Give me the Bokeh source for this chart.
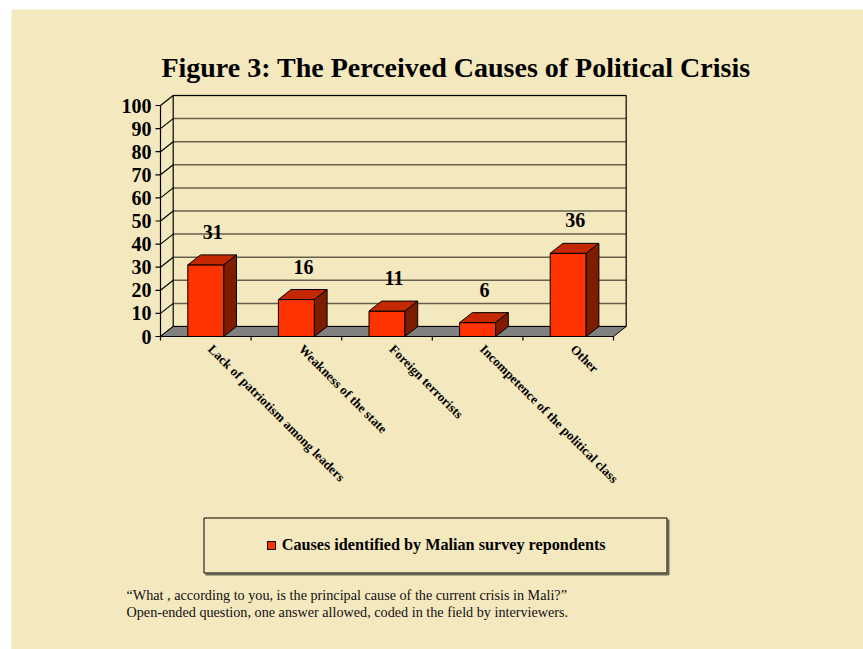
import math
from bokeh.plotting import figure
from bokeh.models import Range1d, Legend, LegendItem
from bokeh.core.properties import value
from bokeh.embed import file_html
from bokeh.resources import INLINE

# ---------------- data ----------------
categories = [
    "Lack of patriotism among leaders",
    "Weakness of the state",
    "Foreign terrorists",
    "Incompetence of the political class",
    "Other",
]
percentages = [31, 16, 11, 6, 36]
y_ticks = [0, 10, 20, 30, 40, 50, 60, 70, 80, 90, 100]
y_tick_labels = [str(t) for t in y_ticks]
title_text = "Figure 3:  The Perceived Causes of Political Crisis"
legend_label = "Causes identified by Malian survey repondents"
note_lines = [
    "\u201cWhat , according to you, is the principal cause of the current crisis in Mali?\u201d",
    "Open-ended question, one answer allowed, coded in the field by interviewers.",
]

# ---------------- layout (pixel geometry) ----------------
W, H = 863, 649
LEFT_PAD, TOP_PAD = 11, 9   # white strip before the beige panel
PX_CAT = 90.6      # pixels per category
PX_UNIT = 2.31     # pixels per percentage point
ORIGIN_X = 160     # page x of the front axis
ORIGIN_Y = 336     # page y of value 0 on the front plane

def X(px):  # page px -> data x
    return (px - ORIGIN_X) / PX_CAT

def Y(py):  # page px -> data y
    return (ORIGIN_Y - py) / PX_UNIT

def DX(px):
    return px / PX_CAT

def DY(px):
    return px / PX_UNIT

BG = "#F4E8BE"
FRONT = "#FF3300"
TOP = "#C42800"
SIDE = "#7E1C00"
FLOOR = "#808080"
GRID = "#66614F"
SERIF = value("Liberation Serif")

depth_x = DX(12.7)
depth_y = DY(10)
half_w = DX(18)
n = len(categories)
y_max = y_ticks[-1]

p = figure(width=W, height=H,
           x_range=Range1d(X(LEFT_PAD), X(W)), y_range=Range1d(Y(H), Y(TOP_PAD)),
           output_backend="svg", toolbar_location=None,
           x_axis_location=None, y_axis_location=None,
           min_border=0, min_border_left=LEFT_PAD, min_border_top=TOP_PAD,
           background_fill_color=BG, border_fill_color="white",
           outline_line_color=None)
p.xgrid.visible = False
p.ygrid.visible = False

# back wall gridlines
p.segment(x0=[depth_x] * len(y_ticks), y0=[t + depth_y for t in y_ticks],
          x1=[n + depth_x] * len(y_ticks), y1=[t + depth_y for t in y_ticks],
          line_color=GRID, line_width=1.5)
# back wall frame
p.line(x=[depth_x, depth_x, n + depth_x, n + depth_x],
       y=[depth_y, y_max + depth_y, y_max + depth_y, depth_y],
       line_color="black", line_width=1.2)
# side wall diagonals
p.segment(x0=[0] * len(y_ticks), y0=y_ticks,
          x1=[depth_x] * len(y_ticks), y1=[t + depth_y for t in y_ticks],
          line_color="black", line_width=1.2)
# floor
p.patch(x=[0, n, n + depth_x, depth_x], y=[0, 0, depth_y, depth_y],
        fill_color=FLOOR, line_color="black", line_width=1)
# front value axis and ticks
p.line(x=[0, 0], y=[0, y_max], line_color="black", line_width=1.2)
p.segment(x0=[-DX(5)] * len(y_ticks), y0=y_ticks, x1=[0] * len(y_ticks), y1=y_ticks,
          line_color="black", line_width=1.2)
# category axis and ticks
p.line(x=[0, n], y=[0, 0], line_color="black", line_width=1.2)
p.segment(x0=list(range(n + 1)), y0=[0] * (n + 1), x1=list(range(n + 1)),
          y1=[-DY(4)] * (n + 1), line_color="black", line_width=1.2)

# bars
centers = [i + 0.5 for i in range(n)]
front = p.quad(left=[c - half_w for c in centers], right=[c + half_w for c in centers],
               bottom=[0] * n, top=percentages,
               fill_color=FRONT, line_color="black", line_width=1)
p.patches(xs=[[c - half_w, c + half_w, c + half_w + depth_x, c - half_w + depth_x] for c in centers],
          ys=[[v, v, v + depth_y, v + depth_y] for v in percentages],
          fill_color=TOP, line_color="black", line_width=1)
p.patches(xs=[[c + half_w, c + half_w + depth_x, c + half_w + depth_x, c + half_w] for c in centers],
          ys=[[0, depth_y, v + depth_y, v] for v in percentages],
          fill_color=SIDE, line_color="black", line_width=1)

# value labels
p.text(x=[c + DX(7) for c in centers], y=[v + DY(33) for v in percentages],
       text=[str(v) for v in percentages],
       text_font=SERIF, text_font_style="bold", text_font_size="20px",
       text_align="center", text_baseline="middle", text_color="black")

# y tick labels
p.text(x=[-DX(9)] * len(y_ticks), y=y_ticks, text=y_tick_labels,
       text_font=SERIF, text_font_style="bold", text_font_size="20px",
       text_align="right", text_baseline="middle", text_color="black")

# category labels (rotated)
p.text(x=[c + DX(10) for c in centers], y=[-DY(5)] * n, text=categories,
       angle=-math.pi / 4,
       text_font=SERIF, text_font_style="bold", text_font_size="13px",
       text_align="left", text_baseline="top", text_color="black")

# title
p.text(x=[X(459)], y=[Y(67)], text=[title_text],
       text_font=SERIF, text_font_style="bold", text_font_size="28px",
       text_align="center", text_baseline="middle", text_color="black")

# legend frame (with slight shadow)
p.line(x=[X(205), X(668), X(668)],
       y=[Y(574), Y(574), Y(519)],
       line_color="#6E6A5A", line_width=2)
p.quad(left=[X(203.5)], right=[X(666.5)],
       top=[Y(517.5)], bottom=[Y(572.5)],
       fill_color=None, line_color="black", line_width=1)

legend = Legend(items=[LegendItem(label=legend_label, renderers=[front])],
                location=(265.7 - LEFT_PAD, H - 555),
                padding=0, margin=0, spacing=0,
                border_line_color=None, background_fill_alpha=0,
                glyph_width=10, glyph_height=10, label_height=20,
                label_standoff=6,
                label_text_font="Liberation Serif", label_text_font_style="bold",
                label_text_font_size="16.2px", label_text_color="black",
                label_text_baseline="middle")
p.add_layout(legend)

# footnote
p.text(x=[X(126)] * len(note_lines),
       y=[Y(594), Y(611.5)], text=note_lines,
       text_font=SERIF, text_font_size="14.2px",
       text_align="left", text_baseline="middle", text_color="#111111")

open("out.html", "w").write(file_html(p, INLINE))
